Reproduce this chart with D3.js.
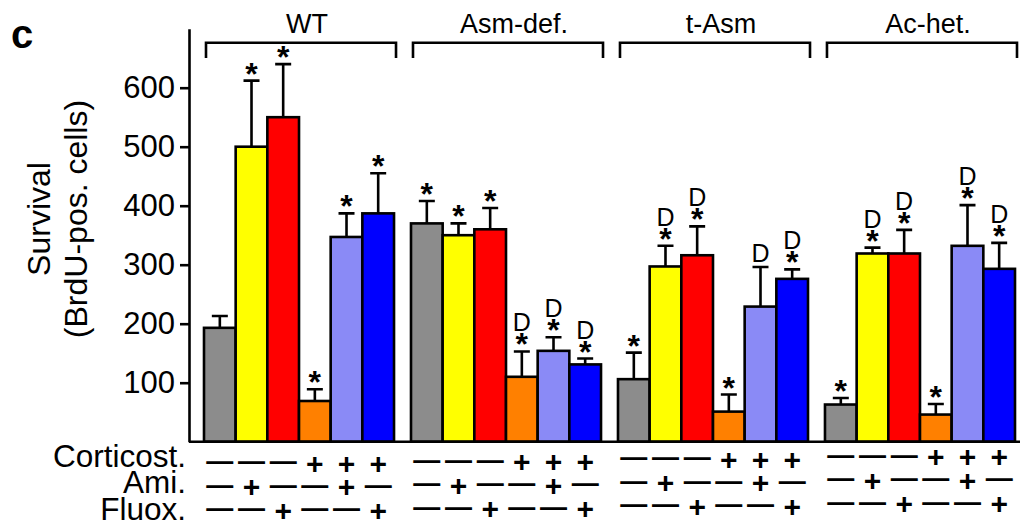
<!DOCTYPE html>
<html>
<head>
<meta charset="utf-8">
<script src="https://cdn.jsdelivr.net/npm/d3@7"></script>
<style>
  html, body { margin: 0; padding: 0; background: #fff; }
  svg { display: block; }
  text { font-family: "Liberation Sans", Arial, Helvetica, sans-serif; fill: #000; }
</style>
</head>
<body>
<svg id="chart" width="1022" height="526"></svg>
<script>
// Genotype groups and the six treatment conditions shown in each
const groups = ["WT", "Asm-def.", "t-Asm", "Ac-het."];
const treatments = ["Control", "Ami.", "Fluox.", "Corticost.", "Corticost. + Ami.", "Corticost. + Fluox."];
const treatmentColors = ["#8c8c8c", "#ffff00", "#ff0000", "#ff8000", "#8a8af6", "#0000ff"];

// Mean BrdU-positive surviving cells per treatment
const wtMeans     = [193, 500, 550, 69, 347, 387];
const asmDefMeans = [370, 350, 360, 110, 154, 131];
const tAsmMeans   = [106, 297, 316, 51, 229, 276];
const acHetMeans  = [63, 319, 319, 46, 332, 293];

// Error (SEM) per treatment
const wtErr     = [20, 112, 90, 20, 40, 68];
const asmDefErr = [38, 20, 36, 43, 23, 10];
const tAsmErr   = [45, 35, 49, 29, 67, 16];
const acHetErr  = [11, 10, 40, 18, 69, 44];

// Significance marks above each bar
const wtMarks     = ["", "*", "*", "*", "*", "*"];
const asmDefMarks = ["*", "*", "*", "D*", "D*", "D*"];
const tAsmMarks   = ["*", "D*", "D*", "*", "D", "D*"];
const acHetMarks  = ["*", "D*", "D*", "*", "D*", "D*"];

// Treatment design table below the bars
const rowLabels = ["Corticost.", "Ami.", "Fluox."];
const corticostSigns = ["-", "-", "-", "+", "+", "+"];
const amiSigns       = ["-", "+", "-", "-", "+", "-"];
const fluoxSigns     = ["-", "-", "+", "-", "-", "+"];

// Y axis ticks
const yTicks = [100, 200, 300, 400, 500, 600];

const means = [wtMeans, asmDefMeans, tAsmMeans, acHetMeans];
const errs = [wtErr, asmDefErr, tAsmErr, acHetErr];
const marks = [wtMarks, asmDefMarks, tAsmMarks, acHetMarks];
const signRows = [corticostSigns, amiSigns, fluoxSigns];

const rows = [];
groups.forEach((g, gi) => {
  treatments.forEach((t, ti) => {
    rows.push({ group: g, gi, treatment: t, ti, value: means[gi][ti], err: errs[gi][ti], mark: marks[gi][ti] });
  });
});

const svg = d3.select("#chart");

const axisX = 189;
const y = d3.scaleLinear().domain([0, 700]).range([441.7, 28.7]);
const xGroup = d3.scaleBand().domain(groups).range([204, 1015]).paddingInner(0.082).paddingOuter(0);
const xBar = d3.scaleBand().domain(d3.range(treatments.length)).range([0, xGroup.bandwidth()]).padding(0);
const barX = d => xGroup(d.group) + xBar(d.ti);
const barC = d => barX(d) + xBar.bandwidth() / 2;

// Panel letter
svg.append("text").attr("x", 11).attr("y", 48)
  .attr("font-size", 40).attr("font-weight", "bold").text("c");

// Y axis
const yAxis = svg.append("g").attr("transform", `translate(${axisX},0)`)
  .call(d3.axisLeft(y).tickValues(yTicks).tickSize(9).tickSizeOuter(0).tickPadding(5).tickFormat(d3.format("d")));
yAxis.select(".domain").attr("stroke", "#000").attr("stroke-width", 2.6);
yAxis.selectAll(".tick line").attr("stroke", "#000").attr("stroke-width", 2.6);
yAxis.selectAll(".tick text").attr("font-size", 31)
  .attr("font-family", '"Liberation Sans", Arial, sans-serif').attr("fill", "#000");

// Y axis title (two lines)
const yTitle = svg.append("text").attr("transform", "translate(0,219) rotate(-90)")
  .attr("text-anchor", "middle").attr("font-size", 32);
yTitle.append("tspan").attr("x", 0).attr("y", 50).text("Survival");
yTitle.append("tspan").attr("x", 0).attr("y", 87).text("(BrdU-pos. cells)");

// Group brackets and labels
const br = svg.append("g");
groups.forEach(g => {
  const x0 = xGroup(g) + 2, x1 = xGroup(g) + xGroup.bandwidth() + 2;
  br.append("path").attr("d", `M${x0},58 V42.7 H${x1} V58`)
    .attr("fill", "none").attr("stroke", "#000").attr("stroke-width", 2.6);
  br.append("text").attr("x", (x0 + x1) / 2 + 6).attr("y", 33)
    .attr("text-anchor", "middle").attr("font-size", 27).text(g);
});

// Error bars
const eb = svg.append("g").attr("stroke", "#000").attr("stroke-width", 2.6).attr("fill", "none");
eb.selectAll("path").data(rows).join("path")
  .attr("d", d => {
    const c = barC(d), top = y(d.value + d.err);
    return `M${c},${y(d.value)} V${top} M${c - 8},${top} H${c + 8}`;
  });

// Bars
svg.append("g").selectAll("rect").data(rows).join("rect")
  .attr("x", d => barX(d))
  .attr("y", d => y(d.value))
  .attr("width", xBar.bandwidth())
  .attr("height", d => y(0) - y(d.value))
  .attr("fill", d => treatmentColors[d.ti])
  .attr("stroke", "#000").attr("stroke-width", 2.6);

// X axis baseline
svg.append("line").attr("x1", axisX).attr("x2", 1020).attr("y1", y(0)).attr("y2", y(0))
  .attr("stroke", "#000").attr("stroke-width", 2.6);

// Significance marks
const mk = svg.append("g");
rows.filter(d => d.mark).forEach(d => {
  const cap = y(d.value + d.err), c = barC(d);
  const hasStar = d.mark.includes("*"), hasD = d.mark.includes("D");
  if (hasStar) {
    mk.append("text").attr("x", c).attr("y", cap + 4)
      .attr("text-anchor", "middle").attr("font-size", 32).attr("font-weight", "bold").text("*");
  }
  if (hasD) {
    mk.append("text").attr("x", c).attr("y", hasStar ? cap - 20 : cap - 5)
      .attr("text-anchor", "middle").attr("font-size", 25).text("D");
  }
});

// Treatment design table
const labelBaselines = [466.7, 493.3, 519.5];
const rowCenters = [463, 486.5, 510];
const groupShift = [0, -1.5, -4, -6.5];
const tbl = svg.append("g");
rowLabels.forEach((lab, ri) => {
  tbl.append("text").attr("x", 186).attr("y", labelBaselines[ri])
    .attr("text-anchor", "end").attr("font-size", 31.5).text(lab);
});
groups.forEach((g, gi) => {
  signRows.forEach((signs, ri) => {
    signs.forEach((s, ti) => {
      const d = { group: g, ti };
      const cy = rowCenters[ri] + groupShift[gi];
      if (s === "+") {
        tbl.append("text").attr("x", barC(d)).attr("y", cy + 10.5)
          .attr("text-anchor", "middle").attr("font-size", 30).attr("font-weight", "bold").text("+");
      } else {
        tbl.append("text").attr("x", barC(d)).attr("y", cy + 7)
          .attr("text-anchor", "middle").attr("font-size", 27).attr("font-weight", "bold").text("\u2014");
      }
    });
  });
});
</script>
</body>
</html>
